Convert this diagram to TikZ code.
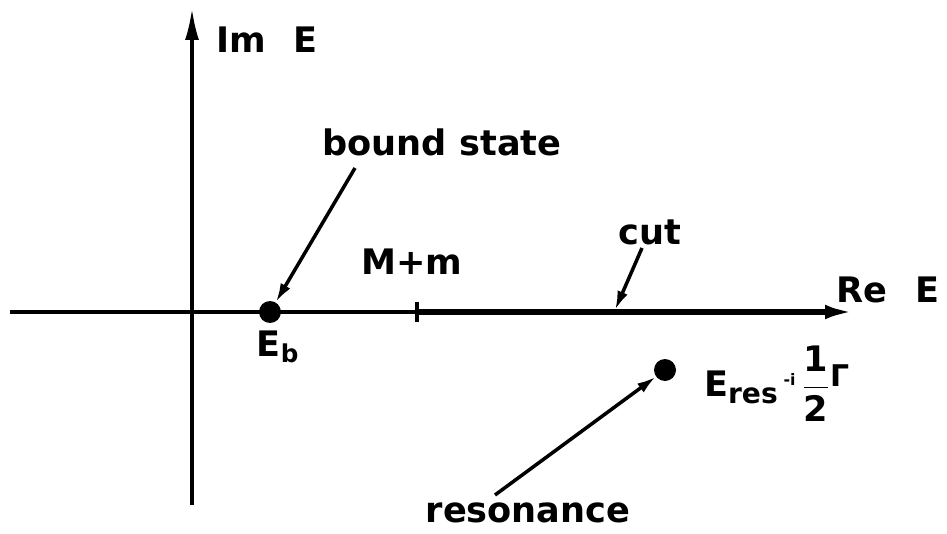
\documentclass[tikz,border=0pt]{standalone}
\usepackage{fontspec}
\setmainfont{DejaVu Sans}
\usetikzlibrary{arrows.meta}

\begin{document}
\begin{tikzpicture}[
  x=0.02cm,
  y=-0.02cm,
  >={Latex[length=6.4mm,width=2.8mm]},
  font=\fontsize{20}{24}\selectfont\bfseries,
  axis/.style={->, line width=2pt},
  cutline/.style={->, line width=3.4pt},
  pole/.style={
    circle,
    fill=black,
    inner sep=0pt,
    minimum size=0.44cm
  },
  pointer/.style={
    -{Latex[length=3.8mm,width=2.2mm]},
    line width=2pt
  },
  lbl/.style={inner sep=1pt}
]
\useasboundingbox (0,0) rectangle (947,534);

% axes
\coordinate (xleft) at (10,312);
\coordinate (thresh) at (417,312);
\coordinate (xright) at (857,312);
\coordinate (ybottom) at (192,505);
\coordinate (ytop) at (192,8);

\draw[axis] (ybottom) -- (ytop);
\draw[line width=2pt] (xleft) -- (thresh);
\draw[cutline] (thresh) -- (xright);
\draw[line width=2pt] ([yshift=-0.2cm]thresh) -- ([yshift=0.2cm]thresh);

\node[lbl, right] (imlbl) at (214,40) {Im\hspace{0.8em}E};
\node[lbl, right] (relbl) at (834,290) {Re\hspace{0.8em}E};

% poles
\node[pole] (eb) at (270,312) {};
\node[pole] (eres) at (665,370) {};

\node[lbl] (eblbl) at (278,347) {E\textsubscript{b}};
\node[lbl] (mmlbl) at (412,262) {M+m};
\node[lbl, right] (reslbl) at (702,384) {E\raisebox{-0.35ex}{\fontsize{16}{18}\selectfont res}\,\raisebox{0.6ex}{\small -i}\,$\displaystyle\frac{\textrm{\bfseries 1}}{\textrm{\bfseries 2}}$\raisebox{0.55ex}{\fontsize{17}{18}\selectfont Γ}};

% pointers
\node[lbl] (bslbl) at (442,142) {bound state};
\node[lbl] (cutlbl) at (650,232) {cut};
\node[lbl] (resonlbl) at (528,513) {resonance};

\coordinate (bstail) at (355,168);
\coordinate (cuttail) at (642,248);
\coordinate (cutpt) at (615,310);
\coordinate (restail) at (495,495);

\draw[pointer] (bstail) -- (eb);
\draw[pointer] (cuttail) -- (cutpt);
\draw[pointer] (restail) -- (eres);

\end{tikzpicture}
\end{document}
